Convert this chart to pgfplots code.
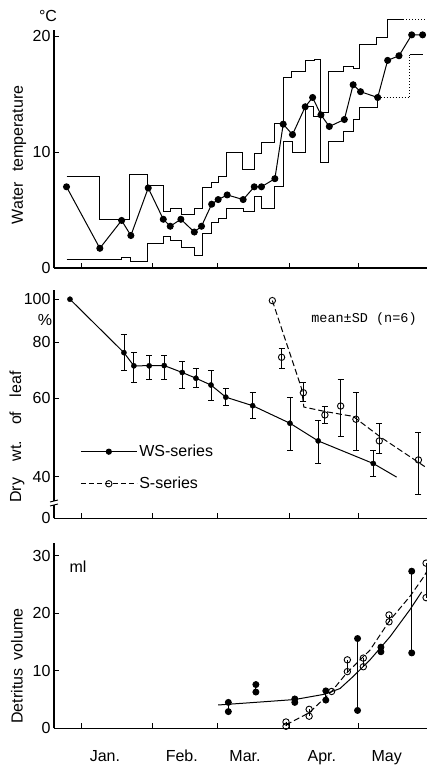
\documentclass[border=0pt]{standalone}
\usepackage{pgfplots}
\pgfplotsset{compat=1.18}
\usepackage{pgfplotstable}
\usepackage{fontspec}
\setmainfont{Liberation Sans}
\setmonofont{Liberation Mono}

\newcommand{\tfont}{\fontsize{16bp}{18bp}\selectfont}

\pgfplotstableread{
x y ep em
18.5 75.9 7.3 6.5
22.8 70.9 4.9 5.9
29.4 70.9 4.1 4.7
35.9 71.0 4.0 4.8
43.7 68.5 4.0 5.4
49.6 66.5 3.5 3.0
56.1 64.2 5.0 4.9
62.5 60.3 2.8 2.6
74.1 57.7 4.0 3.8
90.2 52.7 7.5 6.8
102.4 48.1 5.5 5.3
126.2 42.8 3.0 2.8
}\wsdata

\pgfplotstableread{
x y ep em
86.6 74.1 3.5 4.1
96.0 61.7 3.3 2.7
105.3 55.0 2.6 2.3
112.1 57.6 8.6 8.4
118.7 53.8 7.9 7.9
128.8 48.1 4.6 3.1
145.7 43.6 6.6 7.1
}\sdata

\pgfplotsset{
  base/.style={
    scale only axis, width=373bp, xmin=-11.7, xmax=149.4,
    axis x line=bottom, axis y line=left,
    axis line style={-, line width=1.1bp},
    xtick={0,31,59,90,120}, xticklabels={},
    tick align=inside, major tick length=5bp,
    minor tick num=0,
    tick style={line width=0.9bp, black},
    every tick label/.append style={font=\tfont},
    /pgf/number format/assume math mode=true,
    clip=false, anchor=south west,
  },
  errs/.style={error bars/.cd, y dir=both, y explicit,
    error bar style={line width=0.8bp},
    error mark options={rotate=90, mark size=3bp, line width=0.8bp}},
  opencirc/.style={mark=o, mark size=3.2bp, mark options={solid, fill=white, line width=0.9bp}},
}

\begin{document}
\begin{tikzpicture}
\path[use as bounding box] (0,0) rectangle (427bp,766bp);

% ---------------- Panel 1: water temperature
\begin{axis}[base, at={(54bp,498bp)}, height=238bp, ymin=0, ymax=20.52, ytick={0,10,20}]
\addplot[const plot, black, line width=1bp] coordinates {
(-6.3,7.9)(7.8,4.2)(21.1,8.1)(28.7,7.1)(35.5,4.9)(38.5,5.1)(43.4,4.6)(49.1,5.1)(52.3,6.9)(56.4,7.4)(59.2,7.9)(62.8,10.0)(69.7,8.5)(74.8,9.9)(77.9,10.8)(83.7,12.5)(87.3,16.4)(91.0,16.9)(97.1,17.9)(101.0,18.0)(103.6,13.4)(106.8,16.9)(113.2,17.4)(117.5,17.2)(120.4,19.3)(127.6,19.9)(132.4,21.4)(139.2,21.4)};
\addplot[black, line width=1bp, dotted] coordinates {(139.2,21.4)(149.4,21.4)};
\addplot[const plot, black, line width=1bp] coordinates {
(-6.3,0.7)(17.5,0.9)(21.5,0.6)(28.7,2.1)(35.5,2.7)(38.5,2.4)(43.4,1.8)(49.1,1.1)(52.3,3.0)(56.4,3.9)(59.2,4.3)(62.8,5.1)(70.0,4.9)(74.8,6.2)(77.9,5.1)(83.7,7.0)(87.3,10.9)(91.3,10.0)(97.1,13.9)(100.3,13.1)(103.6,9.1)(106.8,10.9)(113.2,11.8)(117.5,12.8)(120.4,13.8)(128.1,14.7)};
\addplot[black, line width=1bp, dotted] coordinates {(128.1,14.7)(142.0,14.7)(142.0,18.4)};
\addplot[black, line width=1bp] coordinates {(142.0,18.4)(147.8,18.4)};
\addplot[black, line width=1bp, mark=*, mark size=3bp] coordinates {
(-6.3,7.0)(8.1,1.7)(17.5,4.1)(21.5,2.8)(29.0,6.9)(35.5,4.2)(38.5,3.6)(43.1,4.2)(48.9,3.1)(52.0,3.6)(56.4,5.5)(59.2,5.9)(63.1,6.3)(70.0,5.9)(74.8,7.0)(77.9,7.0)(83.7,7.7)(87.3,12.4)(91.3,11.5)(96.8,13.9)(100.0,14.7)(103.6,13.2)(107.2,12.2)(113.7,12.8)(117.5,15.8)(120.7,15.2)(128.1,14.7)(132.4,17.9)(137.3,18.3)(142.8,20.1)(147.5,20.1)};
\end{axis}

% ---------------- Panel 2: dry weight (log scale)
\begin{axis}[base, at={(54bp,247.7bp)}, height=228.3bp, ymode=log,
  ymin=32.25, ymax=104.9, ytick={32.25,40,60,80,100}, yticklabels={0,40,60,80,100},
  legend image code/.code={\draw[mark repeat=2,mark phase=2,#1] plot coordinates {(0bp,0bp)(28bp,0bp)(56bp,0bp)};},
  legend style={draw=none, fill=none, at={(0.07,0.33)}, anchor=north west,
    font=\tfont, row sep=15bp, inner sep=0pt, cells={anchor=west}},
  legend cell align=left]
\addlegendimage{black, line width=1bp, mark=*, mark size=2.6bp}
\addlegendentry{WS-series}
\addlegendimage{black, line width=1bp, dash pattern=on 5bp off 3bp, opencirc}
\addlegendentry{S-series}
\addplot[forget plot, black, line width=1bp] coordinates {
(-4.8,100)(18.5,75.9)(22.8,70.9)(35.9,71.0)(43.7,68.5)(49.6,66.5)(56.1,64.2)(62.5,60.3)(74.1,57.7)(90.2,52.7)(102.4,48.1)(126.2,42.8)(136.3,39.9)};
\addplot[forget plot, black, line width=1bp, dash pattern=on 6bp off 3bp] coordinates {
(82.6,99.3)(95.2,63.1)(96.2,57.3)(105.3,56.0)(117.5,54.6)(129.0,49.2)(149.4,41.8)};
\addplot[forget plot, black, only marks, mark=*, mark size=2.6bp, errs]
  table[x=x, y=y, y error plus=ep, y error minus=em] {\wsdata};
\addplot[forget plot, black, only marks, mark=*, mark size=2.6bp] coordinates {(-4.8,100)};
\addplot[forget plot, black, only marks, opencirc, errs]
  table[x=x, y=y, y error plus=ep, y error minus=em] {\sdata};
\addplot[forget plot, black, only marks, opencirc] coordinates {(82.6,99.3)};
\end{axis}

% ---------------- Panel 3: detritus volume
\begin{axis}[base, at={(54bp,37.7bp)}, height=185.3bp, ymin=0, ymax=32.2, ytick={0,10,20,30},
  extra x ticks={10.3,43.5,70.8,104,132},
  extra x tick labels={Jan.,Feb.,Mar.,Apr.,May},
  extra x tick style={major tick length=0pt,
    tick label style={anchor=north, text height=12bp, text depth=3.5bp, yshift=-17.5bp}}]
\addplot[black, line width=1bp] coordinates {
(59.2,4.05)(75,4.5)(92.3,5.0)(104.9,5.9)(111.8,6.9)(117.5,9.0)(124.8,11.9)(133.4,15.9)(142,20.6)(147.1,23.7)};
\addplot[black, line width=1bp, dash pattern=on 6bp off 3bp] coordinates {
(88.5,0.6)(98.5,2.7)(104,4.8)(108.2,6.4)(114.7,9.6)(124.8,13.6)(133.4,18.8)(142,22.9)(147.6,26.1)(149.4,27.3)};
\addplot[black, line width=0.9bp, mark=*, mark size=3bp, unbounded coords=jump] coordinates {
(63.6,4.5)(63.6,2.9)(63.6,nan)
(75.5,7.6)(75.5,6.3)(75.5,nan)
(92.3,5.1)(92.3,4.5)(92.3,nan)
(105.7,6.5)(105.7,4.9)(105.7,nan)
(119.4,15.6)(119.4,3.1)(119.4,nan)
(129.5,14.1)(129.5,13.3)(129.5,nan)
(142.8,27.3)(142.8,13.1)};
\addplot[black, line width=0.9bp, opencirc, unbounded coords=jump] coordinates {
(88.5,1.1)(88.5,0.35)(88.5,nan)
(98.5,3.3)(98.5,2.1)(98.5,nan)
(108.2,6.4)(108.2,nan)
(115.0,11.9)(115.0,9.85)(115.0,nan)
(121.9,12.2)(121.9,10.7)(121.9,nan)
(133.0,19.7)(133.0,18.5)(133.0,nan)
(149.0,28.7)(149.0,22.7)};
\end{axis}

% ---------------- labels
\node[rotate=90, font=\fontsize{16bp}{18bp}\selectfont] at (19bp,611bp) {Water\hspace{6bp} temperature};
\node[rotate=90, font=\fontsize{16bp}{18bp}\selectfont] at (17bp,329bp) {Dry\hspace{12bp} wt.\hspace{10bp} of\hspace{10bp} leaf};
\node[rotate=90, font=\fontsize{16bp}{18bp}\selectfont] at (17bp,100bp) {Detritus\hspace{4bp} volume};
\node[font=\tfont] at (48bp,750bp) {°C};
\node[font=\tfont] at (45bp,446bp) {\%};
\node[font=\tfont] at (78bp,199bp) {ml};
\node[font=\ttfamily\fontsize{13.5bp}{15bp}\selectfont] at (364bp,447bp) {mean±SD (n=6)};
% axis break mark on the dry-weight axis
\fill[white] (49bp,261bp) rectangle (60bp,265bp);
\draw[line width=0.9bp] (50bp,260bp) -- (58bp,262bp);
\draw[line width=0.9bp] (50bp,264bp) -- (58bp,266bp);
\end{tikzpicture}
\end{document}
